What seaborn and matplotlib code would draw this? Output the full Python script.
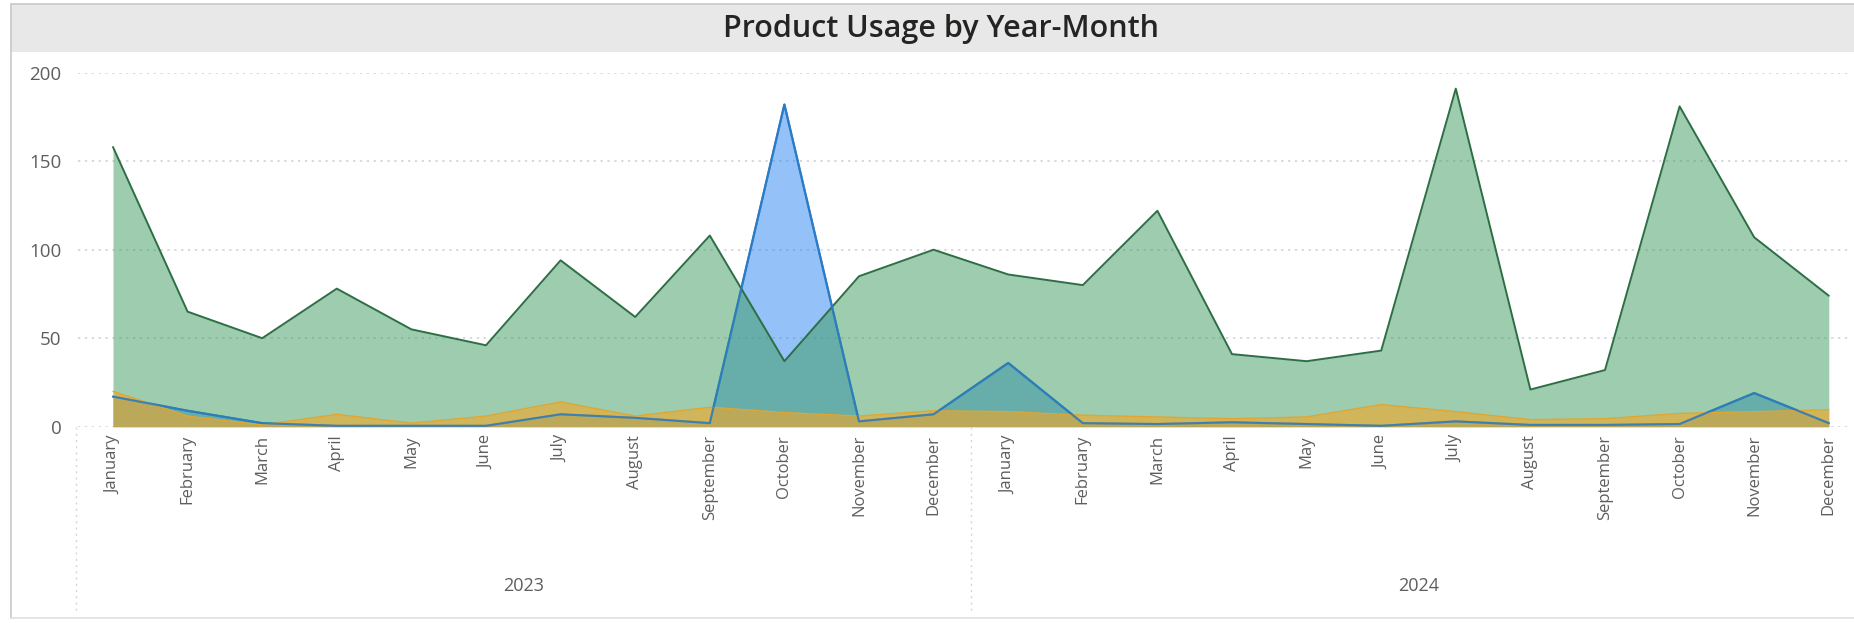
import matplotlib
matplotlib.use("Agg")
import matplotlib.pyplot as plt
import matplotlib.transforms as mtransforms
from matplotlib.patches import Rectangle
from matplotlib.lines import Line2D
import seaborn as sns
import pandas as pd

# ---------------- data ----------------
month_names = ["January", "February", "March", "April", "May", "June", "July",
               "August", "September", "October", "November", "December"]
years = ["2023", "2024"]
green_vals = [158, 65, 50, 78, 55, 46, 94, 62, 108, 37, 85, 100,
              86, 80, 122, 41, 37, 43, 191, 21, 32, 181, 107, 74]
blue_vals = [17, 9, 2, 0.5, 0.5, 0.5, 7, 5, 2, 182, 3, 7,
             36, 2, 1.5, 2.5, 1.5, 0.5, 3, 1, 1, 1.5, 19, 2]
yellow_vals = [20, 6, 1, 7, 2, 6, 14, 6, 11, 8, 6, 9,
               8.5, 6.5, 5.5, 4.5, 5.5, 12.5, 8.5, 4, 4.5, 7.5, 8.5, 9.5]
y_ticks = [0, 50, 100, 150, 200]
title = "Product Usage by Year-Month"

labels = [m for _ in years for m in month_names]
idx = list(range(len(labels)))
df = pd.DataFrame({"idx": idx, "green": green_vals, "blue": blue_vals, "yellow": yellow_vals})

# ---------------- style ----------------
sns.set_theme(style="white")
plt.rcParams["font.family"] = ["Open Sans", "DejaVu Sans"]

W, H = 1854, 623
fig = plt.figure(figsize=(W / 100, H / 100), dpi=100)
fig.patch.set_facecolor("white")

def fx(px):
    return px / W

def fy(py):
    return 1 - py / H

# frame and title bar
border = "#C8C8C8"
fig.add_artist(Rectangle((fx(11), fy(52)), fx(W) - fx(11), fy(4) - fy(52),
                         transform=fig.transFigure, facecolor="#E8E8E8",
                         edgecolor="none", zorder=0))
fig.add_artist(Line2D([fx(11), fx(11)], [fy(4), fy(618)], color=border, lw=1.2,
                      transform=fig.transFigure))
fig.add_artist(Line2D([fx(11), 1], [fy(4), fy(4)], color=border, lw=1.2,
                      transform=fig.transFigure))
fig.add_artist(Line2D([fx(11), 1], [fy(618), fy(618)], color="#E0E0E0", lw=1.2,
                      transform=fig.transFigure))
fig.text(fx(941), fy(29), title, ha="center", va="center", fontsize=22,
         fontweight="semibold", color="#252423")

# axes
x0_px, x_step = 113.0, 74.6
ax_left, ax_right = 78, 1850
y_top, y_bot = 72.7, 426.7
ax = fig.add_axes([fx(ax_left), fy(y_bot), fx(ax_right) - fx(ax_left), fy(y_top) - fy(y_bot)])
ax.set_facecolor("none")
n = len(labels)
ax.set_xlim(-(x0_px - ax_left) / x_step, (n - 1) + (ax_right - (x0_px + (n - 1) * x_step)) / x_step)
ax.set_ylim(0, 200)

# lines first, fills drawn over them (as in the reference)
sns.lineplot(data=df, x="idx", y="blue", ax=ax, color="#2C7BC4", lw=1.6, zorder=1)
ax.fill_between(df["idx"], df["blue"], color="#2A85F0", alpha=0.5, lw=0, zorder=1.5)
sns.lineplot(data=df, x="idx", y="green", ax=ax, color="#2D6E45", lw=1.4, zorder=4)
ax.fill_between(df["idx"], df["green"], color="#3C9A5F", alpha=0.5, lw=0, zorder=2)
ax.fill_between(df["idx"], df["yellow"], color="#F5A623", alpha=0.6, lw=0, zorder=3)
sns.lineplot(data=df, x="idx", y="yellow", ax=ax, color="#E2A62E", lw=1.0, zorder=3.5)
ax.plot(df["idx"], df["blue"], color="#2C7BC4", lw=1.5, zorder=5, alpha=0.85)

for s in ax.spines.values():
    s.set_visible(False)
ax.set_yticks(y_ticks)
ax.set_yticklabels([str(v) for v in y_ticks], fontsize=13.5, color="#605E5C")
ax.yaxis.grid(True, linestyle=(0, (1.5, 3)), color="#CFCFCF", lw=1.1)
ax.xaxis.grid(False)
ax.tick_params(axis="y", length=0, pad=12)
ax.set_xticks(idx)
ax.set_xticklabels(labels, rotation=90, fontsize=12, color="#605E5C")
ax.tick_params(axis="x", length=0, pad=6)
ax.set_xlabel("")
ax.set_ylabel("")

# year group labels and separators
trans = mtransforms.blended_transform_factory(ax.transData, ax.transAxes)
y_year = (y_bot - 586) / (y_bot - y_top)
y_sep_end = (y_bot - 612) / (y_bot - y_top)
for k, yr in enumerate(years):
    center = k * 12 + 5.5
    ax.text(center, y_year, yr, transform=trans, ha="center", va="center",
            fontsize=13, color="#605E5C")
for k in range(len(years)):
    xs = k * 12 - 0.5
    ax.plot([xs, xs], [0, y_sep_end], transform=trans, color="#D6D6D6",
            lw=1.0, linestyle=(0, (1.5, 3)), clip_on=False)

fig.savefig("out.png", dpi=100)
